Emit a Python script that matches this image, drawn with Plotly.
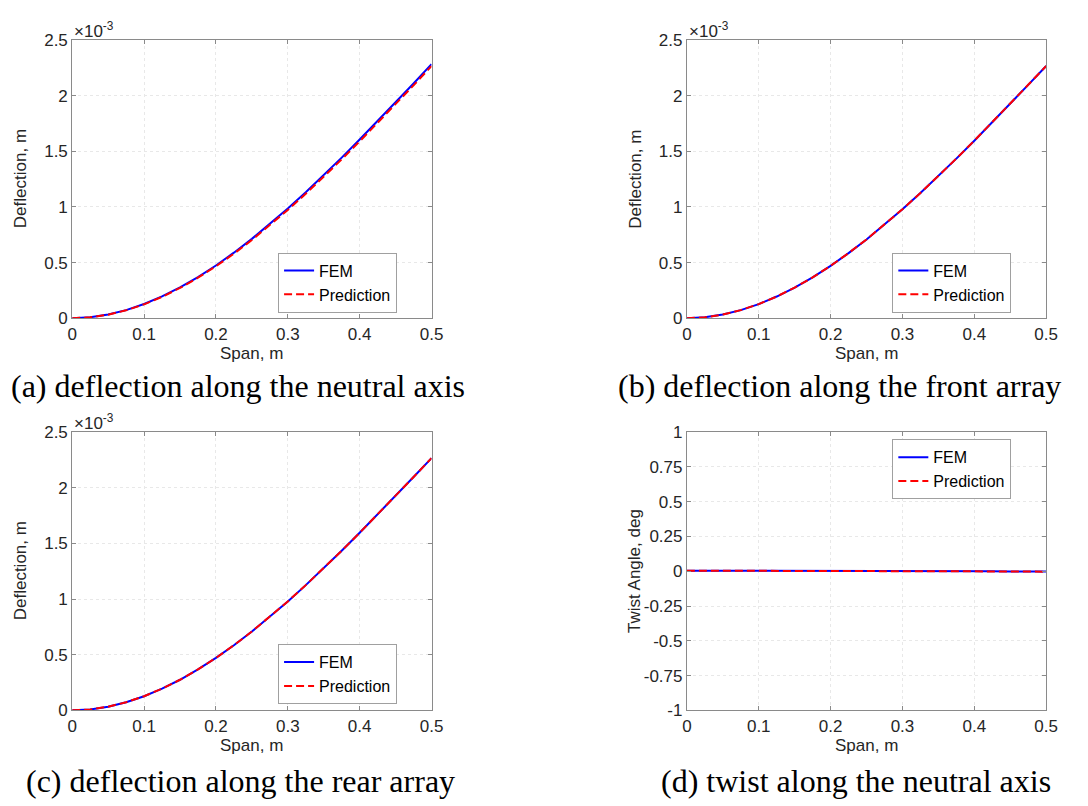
import plotly.graph_objects as go

# ---------------- data (deflection values in units of 1e-3 m) ----------------
span = [0.0, 0.025, 0.05, 0.075, 0.1, 0.125, 0.15, 0.175, 0.2, 0.225, 0.25,
        0.275, 0.3, 0.325, 0.35, 0.375, 0.4, 0.425, 0.45, 0.475, 0.5]

fem_neutral = [0.0, 0.008, 0.033, 0.073, 0.128, 0.196, 0.277, 0.370, 0.474, 0.589, 0.713,
               0.845, 0.985, 1.132, 1.285, 1.443, 1.605, 1.771, 1.939, 2.109, 2.283]
pred_neutral = [0.0, 0.008, 0.032, 0.071, 0.125, 0.192, 0.272, 0.364, 0.467, 0.580, 0.703,
                0.834, 0.973, 1.118, 1.270, 1.427, 1.589, 1.754, 1.922, 2.092, 2.265]

fem_front = [0.0, 0.008, 0.033, 0.073, 0.127, 0.195, 0.275, 0.368, 0.471, 0.585, 0.708,
             0.840, 0.979, 1.125, 1.277, 1.434, 1.595, 1.760, 1.927, 2.096, 2.266]
pred_front = [0.0, 0.008, 0.033, 0.073, 0.127, 0.195, 0.275, 0.367, 0.471, 0.585, 0.708,
              0.840, 0.979, 1.125, 1.277, 1.434, 1.595, 1.760, 1.927, 2.097, 2.266]

fem_rear = [0.0, 0.008, 0.033, 0.073, 0.127, 0.195, 0.275, 0.368, 0.471, 0.585, 0.708,
            0.840, 0.979, 1.125, 1.277, 1.434, 1.595, 1.760, 1.927, 2.096, 2.266]
pred_rear = [0.0, 0.008, 0.033, 0.073, 0.127, 0.195, 0.275, 0.368, 0.471, 0.585, 0.708,
             0.840, 0.979, 1.125, 1.277, 1.434, 1.595, 1.760, 1.927, 2.096, 2.266]

fem_twist = [0.004, 0.004, 0.004, 0.003, 0.003, 0.003, 0.002, 0.002, 0.002, 0.001, 0.001,
             0.001, 0.000, 0.000, 0.000, -0.001, -0.001, -0.001, -0.002, -0.002, -0.002]
pred_twist = [0.004, 0.004, 0.004, 0.004, 0.003, 0.003, 0.003, 0.002, 0.002, 0.002, 0.001,
              0.001, 0.000, 0.000, -0.001, -0.001, -0.001, -0.002, -0.002, -0.003, -0.003]

x_ticks = [0, 0.1, 0.2, 0.3, 0.4, 0.5]
x_ticktext = ["0", "0.1", "0.2", "0.3", "0.4", "0.5"]
defl_ticks = [0, 0.5, 1, 1.5, 2, 2.5]
defl_ticktext = ["0", "0.5", "1", "1.5", "2", "2.5"]
twist_ticks = [-1, -0.75, -0.5, -0.25, 0, 0.25, 0.5, 0.75, 1]
twist_ticktext = ["-1", "-0.75", "-0.5", "-0.25", "0", "0.25", "0.5", "0.75", "1"]

captions = ["(a) deflection along the neutral axis",
            "(b) deflection along the front array",
            "(c) deflection along the rear array",
            "(d) twist along the neutral axis"]

# ---------------- layout geometry ----------------
W, H = 1088, 806
SANS = "Liberation Sans, Arial, sans-serif"
SERIF = "Liberation Serif, Times New Roman, serif"
TXT = "#262626"
AXC = "#8a8a8a"
FS = 17


def px_x(v):
    return v / W


def px_y(v):
    return 1 - v / H


panels = [
    dict(left=68.3, right=433.3, top=31.7, bottom=316.7, fem=fem_neutral, pred=pred_neutral,
         ytitle="Deflection, m", twist=False, leg_x=398.3, leg_y=311, leg_anchor="bottom",
         cap_x=237, cap_y=386),
    dict(left=692.7, right=1057.7, top=31.7, bottom=316.7, fem=fem_front, pred=pred_front,
         ytitle="Deflection, m", twist=False, leg_x=1022.3, leg_y=311, leg_anchor="bottom",
         cap_x=848, cap_y=386),
    dict(left=68.3, right=433.3, top=433.3, bottom=718.3, fem=fem_rear, pred=pred_rear,
         ytitle="Deflection, m", twist=False, leg_x=398.3, leg_y=712, leg_anchor="bottom",
         cap_x=239, cap_y=791),
    dict(left=692.7, right=1057.7, top=433.3, bottom=718.3, fem=fem_twist, pred=pred_twist,
         ytitle="Twist Angle, deg", twist=True, leg_x=1022.3, leg_y=440.7, leg_anchor="top",
         cap_x=864, cap_y=791),
]

fig = go.Figure()
annotations = []
layout = dict(
    width=W, height=H, margin=dict(l=0, r=0, t=0, b=0),
    paper_bgcolor="white", plot_bgcolor="white",
    font=dict(family=SANS, size=FS, color=TXT),
)

for i, p in enumerate(panels):
    n = i + 1
    xa = "x" if n == 1 else f"x{n}"
    ya = "y" if n == 1 else f"y{n}"
    leg = "legend" if n == 1 else f"legend{n}"
    fig.add_trace(go.Scatter(x=span, y=p["fem"], mode="lines", name="FEM",
                             line=dict(color="#0000ff", width=2),
                             xaxis=xa, yaxis=ya, legend=leg))
    fig.add_trace(go.Scatter(x=span, y=p["pred"], mode="lines", name="Prediction",
                             line=dict(color="#ff0000", width=2, dash="8px,4px"),
                             xaxis=xa, yaxis=ya, legend=leg))
    common = dict(showline=True, linecolor=AXC, linewidth=1, mirror="ticks",
                  ticks="inside", ticklen=4, tickcolor=AXC,
                  showgrid=True, gridcolor="#e8e8e8", griddash="dot", gridwidth=1,
                  zeroline=False, tickfont=dict(family=SANS, size=FS, color=TXT))
    layout["xaxis" if n == 1 else f"xaxis{n}"] = dict(
        common, domain=[px_x(p["left"]), px_x(p["right"])], anchor=ya,
        range=[0, 0.5], tickvals=x_ticks, ticktext=x_ticktext)
    if p["twist"]:
        yv, yt, yr = twist_ticks, twist_ticktext, [-1, 1]
    else:
        yv, yt, yr = defl_ticks, defl_ticktext, [0, 2.5]
    layout["yaxis" if n == 1 else f"yaxis{n}"] = dict(
        common, domain=[px_y(p["bottom"]), px_y(p["top"])], anchor=xa,
        range=yr, tickvals=yv, ticktext=yt)
    layout[leg] = dict(
        x=px_x(p["leg_x"]), y=px_y(p["leg_y"]), xanchor="right", yanchor=p["leg_anchor"],
        bgcolor="white", bordercolor="#a0a0a0", borderwidth=1,
        font=dict(family=SANS, size=16, color="#000000"),
        itemwidth=30, tracegroupgap=0)
    # axis titles
    annotations.append(dict(text="Span, m", xref="paper", yref="paper",
                            x=px_x((p["left"] + p["right"]) / 2), y=px_y(p["bottom"] + 36),
                            xanchor="center", yanchor="middle", showarrow=False,
                            font=dict(family=SANS, size=FS, color=TXT)))
    annotations.append(dict(text=p["ytitle"], xref="paper", yref="paper", textangle=-90,
                            x=px_x(p["left"] - 53),
                            y=px_y((p["top"] + p["bottom"]) / 2),
                            xanchor="center", yanchor="middle", showarrow=False,
                            font=dict(family=SANS, size=FS, color=TXT)))
    if not p["twist"]:
        annotations.append(dict(text="\u00d710<sup>-3</sup>", xref="paper", yref="paper",
                                x=px_x(p["left"]), y=px_y(p["top"] - 10),
                                xanchor="left", yanchor="middle", showarrow=False,
                                font=dict(family=SANS, size=FS, color=TXT)))
    annotations.append(dict(text=captions[i], xref="paper", yref="paper",
                            x=px_x(p["cap_x"]), y=px_y(p["cap_y"]),
                            xanchor="center", yanchor="middle", showarrow=False,
                            font=dict(family=SERIF, size=32, color="#000000")))

layout["annotations"] = annotations
fig.update_layout(**layout)
fig.write_html("out.html")
